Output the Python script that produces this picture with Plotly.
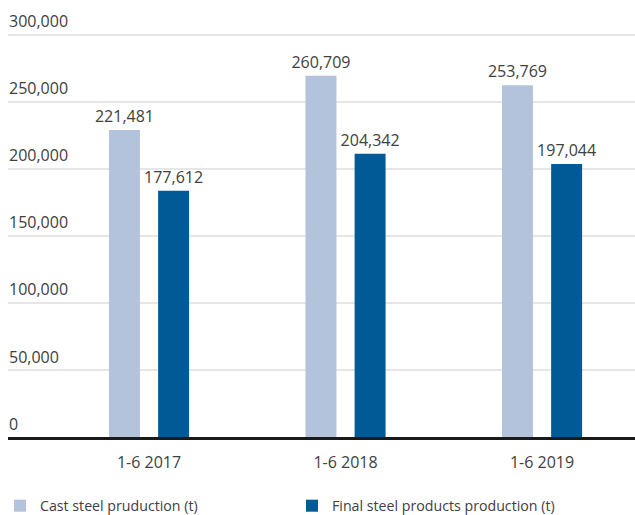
import plotly.graph_objects as go

# data
periods = ['1-6 2017', '1-6 2018', '1-6 2019']
cast_steel = [221481, 260709, 253769]
final_products = [177612, 204342, 197044]
grid_ticks = [0, 50000, 100000, 150000, 200000, 250000, 300000]

LIGHT = '#b3c3dc'
DARK = '#005a96'
TEXT = '#404040'
FONT = 'Open Sans'

fig = go.Figure()

fig.add_trace(go.Bar(
    x=periods, y=cast_steel, name='Cast steel pruduction (t)',
    marker=dict(color=LIGHT, line=dict(width=0)),
    texttemplate='%{y:,d}', textposition='outside', constraintext='none',
    textfont=dict(size=16, color=TEXT, family=FONT),
    cliponaxis=False
))
fig.add_trace(go.Bar(
    x=periods, y=final_products, name='Final steel products production (t)',
    marker=dict(color=DARK, line=dict(width=0)),
    texttemplate='%{y:,d}', textposition='outside', constraintext='none',
    textfont=dict(size=16, color=TEXT, family=FONT),
    cliponaxis=False
))
# empty helper trace so the gridline axis gets drawn
fig.add_trace(go.Scatter(
    x=periods, y=[None] * len(periods), yaxis='y2',
    showlegend=False, hoverinfo='skip', mode='lines'
))

fig.update_layout(
    width=635, height=515,
    margin=dict(l=8, r=0, t=15, b=78),
    plot_bgcolor='white', paper_bgcolor='white',
    font=dict(family=FONT, size=16, color=TEXT),
    barmode='group', bargap=0.5, bargroupgap=0.37,
    xaxis=dict(
        type='category', range=[-0.7176, 2.473], automargin=False,
        showline=True, linecolor='#1a1a1a', linewidth=3,
        showgrid=False, ticks='', ticklabelstandoff=9,
        tickfont=dict(size=16, color=TEXT)
    ),
    # bars are drawn on this axis
    yaxis=dict(
        range=[0, 304470], showgrid=False, showticklabels=False,
        zeroline=False, ticks='', automargin=False
    ),
    # gridlines and labels
    yaxis2=dict(
        overlaying='y', side='left', range=[0, 314534], automargin=False,
        tickmode='array', tickvals=grid_ticks, tickformat=',d',
        showgrid=True, gridcolor='#e6e6e6', gridwidth=1.5,
        zeroline=False, ticks='',
        ticklabelposition='inside', ticklabelshift=-13, ticklabelstandoff=-2,
        ticklabeloverflow='allow',
        tickfont=dict(size=16, color=TEXT)
    ),
    showlegend=True,
    legend=dict(
        orientation='h', xref='container', x=-0.022, xanchor='left',
        yref='container', y=0.0486, yanchor='top',
        entrywidth=247, entrywidthmode='pixels',
        font=dict(size=14.2, color=TEXT, family=FONT),
        bgcolor='rgba(0,0,0,0)'
    ),
)

fig.write_html('out.html', config={'displayModeBar': False},
               post_script="document.body.style.margin='0';")
